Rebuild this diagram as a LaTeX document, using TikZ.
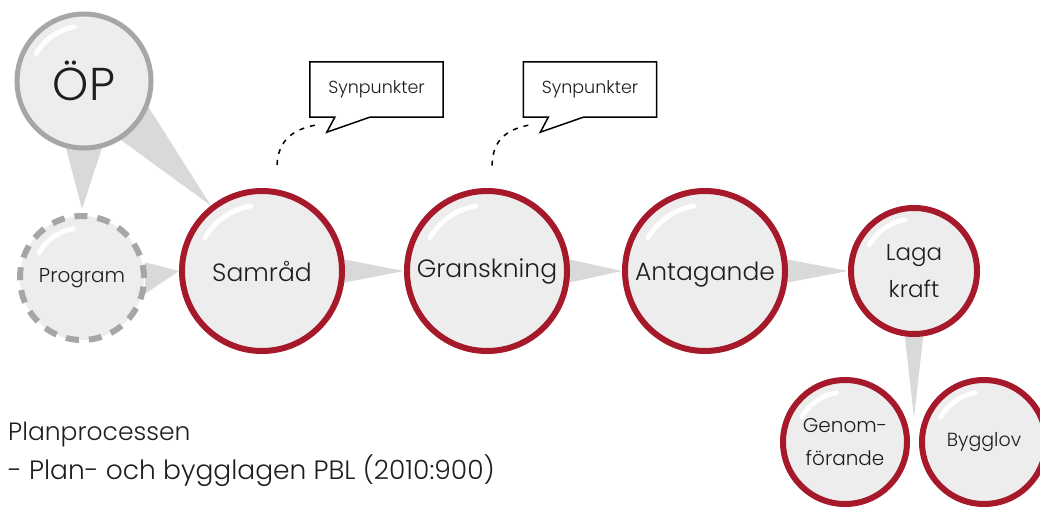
\documentclass[tikz,border=0pt]{standalone}
\usepackage{fontspec}
\setmainfont{Poppins}[UprightFont=* Light]
\usetikzlibrary{calc}
\pgfdeclarelayer{background}
\pgfsetlayers{background,main}
\definecolor{bubfill}{HTML}{EDEDED}
\definecolor{bubred}{HTML}{A5192A}
\definecolor{bubgray}{HTML}{A6A6A6}
\definecolor{conn}{HTML}{D9D9D9}
\definecolor{txt}{HTML}{1E1E1E}
\tikzset{
  bubble/.style={circle, fill=bubfill, draw=bubred, line width=6pt, inner sep=0pt, text=txt, align=center, font=\fontsize{25}{28}\selectfont},
  opbubble/.style={bubble, draw=bubgray, line width=5pt},
  progbubble/.style={bubble, draw=bubgray, line width=6pt, dash pattern=on 13pt off 10pt},
  hl/.style={white, line width=5pt, line cap=round, opacity=0.95},
  taper/.style={fill=conn},
  callout/.style={draw=none, minimum width=133pt, minimum height=55pt, inner sep=0pt, text=txt, font=\fontsize{17.5}{20}\selectfont},
  calloutline/.style={draw=black, line width=1.5pt, fill=white, line join=miter},
  dotline/.style={black, line width=1.5pt, dash pattern=on 5pt off 6pt},
  caption/.style={anchor=west, text=txt, inner sep=0pt}
}
\newcommand{\hilite}[2]{\draw[hl] (#1.center) ++(-150:#2) arc (-150:-100:#2);}
\begin{document}
\begin{tikzpicture}[x=1pt,y=-1pt]
\useasboundingbox (0,0) rectangle (1040,506);
% nodes
\node[opbubble, minimum size=134pt, font=\fontsize{46}{50}\selectfont] (op) at (84,81) {ÖP};
\node[progbubble, minimum size=124pt, font=\fontsize{20}{24}\selectfont] (prog) at (82,278) {Program};
\node[bubble, minimum size=160pt] (samrad) at (262,271) {Samråd};
\node[bubble, minimum size=160pt] (gransk) at (487,271) {Granskning};
\node[bubble, minimum size=160pt] (antag) at (705,271) {\raisebox{-4pt}[\height][\depth]{Antagande}};
\node[bubble, minimum size=126pt, font=\fontsize{23}{37}\selectfont] (laga) at (914,271) {Laga\\kraft};
\node[bubble, minimum size=124pt, font=\fontsize{20}{33}\selectfont] (genom) at (845,442) {Genom-\\förande};
\node[bubble, minimum size=124pt, font=\fontsize{19}{24}\selectfont] (bygg) at (984,442) {Bygglov};
\coordinate (split) at (914,418);
% highlights
\hilite{op}{55}
\hilite{prog}{50}
\hilite{samrad}{66}
\hilite{gransk}{66}
\hilite{antag}{66}
\hilite{laga}{52}
\hilite{genom}{50}
\hilite{bygg}{50}
% tapered connectors
\begin{pgfonlayer}{background}
\fill[taper] (op.255) -- (op.285) -- ($(prog.north)+(0,-4)$) -- cycle;
\fill[taper] (op.-22) -- (op.-58) -- (samrad.128) -- cycle;
\fill[taper] (prog.14) -- (prog.-14) -- (samrad.180) -- cycle;
\fill[taper] (samrad.8) -- (samrad.-8) -- (gransk.180) -- cycle;
\fill[taper] (gransk.8) -- (gransk.-8) -- (antag.180) -- cycle;
\fill[taper] (antag.8) -- (antag.-8) -- (laga.180) -- cycle;
\fill[taper] (laga.-82) -- (laga.-98) -- (split) -- cycle;
\end{pgfonlayer}
% callouts
\coordinate (c1pos) at (376.5,89.5);
\coordinate (c2pos) at (590,89.5);
\node[callout] (c1) at (c1pos) {\phantom{Synpunkter}};
\node[callout] (c2) at (c2pos) {\phantom{Synpunkter}};
\foreach \c in {c1,c2}{
  \draw[calloutline] ($(\c.south west)+(25,0)$) -- (\c.south west) -- (\c.north west) -- (\c.north east) -- (\c.south east) -- ($(\c.south west)+(60,0)$) -- ($(\c.south west)+(17,15)$) -- cycle;
}
\node[callout] (t1) at (c1pos) {Synpunkter};
\node[callout] (t2) at (c2pos) {Synpunkter};
\draw[dotline] ($(c1.south west)+(5,8)$) .. controls ($(c1.south west)+(-25,14)$) and ($(samrad.north)+(15,-40)$) .. ($(samrad.north)+(15,-20)$);
\draw[dotline] ($(c2.south west)+(5,8)$) .. controls ($(c2.south west)+(-25,14)$) and ($(gransk.north)+(5,-40)$) .. ($(gransk.north)+(5,-20)$);
% caption
\node[caption, font=\fontsize{25}{30}\selectfont] (cap1) at (8,434) {Planprocessen};
\node[caption, font=\fontsize{26.5}{30}\selectfont] (cap2) at (8,471) {- Plan- och bygglagen PBL (2010:900)};
\end{tikzpicture}
\end{document}
